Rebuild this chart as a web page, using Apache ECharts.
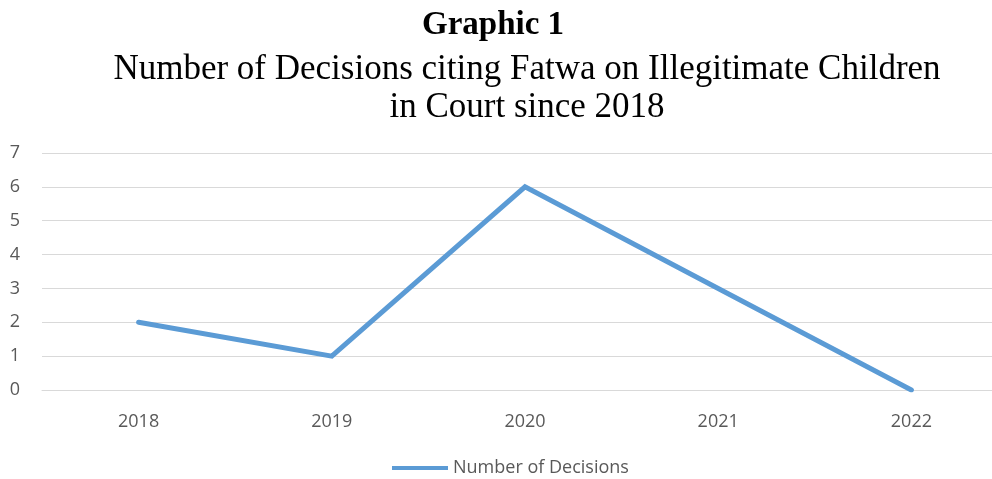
<!DOCTYPE html>
<html>
<head>
<meta charset="utf-8">
<script src="https://cdn.jsdelivr.net/npm/echarts@6/dist/echarts.min.js"></script>
<style>
  html, body { margin: 0; padding: 0; background: #fff; overflow: hidden; }
  #chart { width: 1008px; height: 479px; }
</style>
</head>
<body>
<div id="chart"></div>
<script>
var years = ['2018', '2019', '2020', '2021', '2022'];
var decisions = [2, 1, 6, 3, 0];
var seriesName = 'Number of Decisions';
var titleMain = 'Graphic 1';
var titleSub = 'Number of Decisions citing Fatwa on Illegitimate Children\nin Court since 2018';

var chart = echarts.init(document.getElementById('chart'));

// the drawing area runs past the right edge of the window
var option = {
  backgroundColor: '#fff',
  animation: false,
  title: [{
    text: titleMain,
    left: 488,
    textAlign: 'center',
    top: 4,
    textStyle: {
      fontFamily: 'Liberation Serif',
      fontWeight: 'bold',
      fontSize: 33,
      color: '#000'
    }
  }, {
    text: titleSub,
    left: 522,
    textAlign: 'center',
    top: 46,
    textStyle: {
      fontFamily: 'Liberation Serif',
      fontWeight: 'normal',
      fontSize: 35,
      lineHeight: 38,
      color: '#000'
    }
  }],
  legend: {
    top: 454,
    left: 387,
    itemWidth: 56,
    itemHeight: 14,
    itemGap: 4,
    icon: 'path://M0,5 L56,5 L56,9 L0,9 Z',
    textStyle: {
      fontFamily: 'Open Sans',
      fontSize: 18,
      color: '#595959'
    },
    data: [seriesName]
  },
  grid: {
    left: 42,
    right: 0,
    top: 153,
    bottom: 89
  },
  xAxis: {
    type: 'category',
    data: years,
    boundaryGap: true,
    axisLine: { show: true, lineStyle: { color: '#d9d9d9', width: 1 } },
    axisTick: { show: false },
    axisLabel: {
      fontFamily: 'Open Sans',
      fontSize: 18,
      color: '#595959',
      margin: 23
    }
  },
  yAxis: {
    type: 'value',
    min: 0,
    max: 7,
    interval: 1,
    axisLine: { show: false },
    axisTick: { show: false },
    axisLabel: {
      fontFamily: 'Open Sans',
      fontSize: 18,
      color: '#595959',
      margin: 22
    },
    splitLine: { lineStyle: { color: '#d9d9d9', width: 1 } }
  },
  series: [{
    name: seriesName,
    type: 'line',
    data: decisions,
    symbol: 'none',
    lineStyle: { color: '#5b9bd5', width: 5, cap: 'round', join: 'miter' },
    itemStyle: { color: '#5b9bd5' }
  }]
};

chart.setOption(option);
</script>
</body>
</html>
